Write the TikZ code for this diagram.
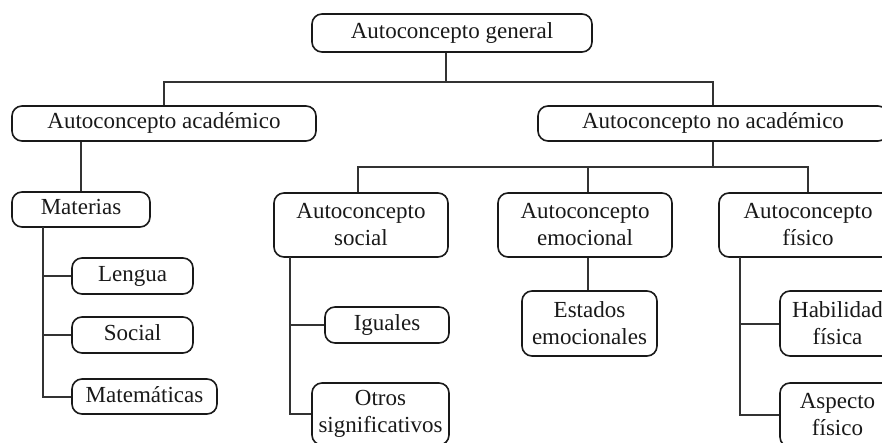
\documentclass[tikz,border=0pt]{standalone}
\usepackage{fontspec}
\setmainfont{Liberation Serif}
\begin{document}
\begin{tikzpicture}[x=1pt,y=-1pt,
  box/.style={draw=black!90, line width=1.6pt, rounded corners=10pt, inner sep=0pt,
    align=center, text=black!90, font=\fontsize{23}{27}\selectfont},
  one/.style={box, text height=16pt, text depth=5pt},
  conn/.style={draw=black!80, line width=2pt}]
\useasboundingbox (0,0) rectangle (882,443);
\clip (0,0) rectangle (882,443);
\fill[white] (0,0) rectangle (882,443);
% nodes
\node[one, minimum width=280pt, minimum height=38pt] (gen) at (452,33) {Autoconcepto general};
\node[one, minimum width=304pt, minimum height=35pt] (acad) at (164,123.5) {Autoconcepto académico};
\node[one, minimum width=350pt, minimum height=35pt] (noacad) at (713,123.5) {Autoconcepto no académico};
\node[one, minimum width=138pt, minimum height=35pt] (mat) at (81,209.5) {Materias};
\node[box, minimum width=174pt, minimum height=64pt] (social) at (361,225) {Autoconcepto\\social};
\node[box, minimum width=174pt, minimum height=64pt] (emoc) at (585,225) {Autoconcepto\\emocional};
\node[box, minimum width=178pt, minimum height=64pt] (fisico) at (808,225) {Autoconcepto\\físico};
\node[one, minimum width=121pt, minimum height=36pt] (lengua) at (132.5,276) {Lengua};
\node[one, minimum width=121pt, minimum height=36pt] (soc2) at (132.5,335) {Social};
\node[one, minimum width=145pt, minimum height=35pt] (mate) at (144.5,396.5) {Matemáticas};
\node[one, minimum width=124pt, minimum height=36pt] (iguales) at (387,325) {Iguales};
\node[box, minimum width=137pt, minimum height=62pt] (otros) at (380.5,414) {Otros\\significativos};
\node[box, minimum width=135pt, minimum height=65pt] (estados) at (589.5,323.5) {Estados\\emocionales};
\node[box, minimum width=115pt, minimum height=65pt] (habil) at (837.5,323.5) {Habilidad\\física};
\node[box, minimum width=115pt, minimum height=64pt] (aspecto) at (837.5,415) {Aspecto\\físico};
% connectors
\coordinate (j1) at (446,82);
\draw[conn] (gen.south -| j1) -- (j1);
\draw[conn] (acad.north) |- (j1) -| (noacad.north);
\coordinate (j2) at (713,167);
\draw[conn] (noacad.south) -- (j2);
\draw[conn] (social.north -| 358,0) |- (j2) -| (fisico.north);
\draw[conn] (emoc.north -| 588,0) -- (588,167);
\draw[conn] (mat.north) -- (mat.north |- acad.south);
\coordinate (mv) at (43,227);
\draw[conn] (mv) |- (mate.west);
\draw[conn] (mv |- lengua.west) -- (lengua.west);
\draw[conn] (mv |- soc2.west) -- (soc2.west);
\coordinate (sv) at (290,257);
\draw[conn] (sv) |- (otros.west);
\draw[conn] (sv |- iguales.west) -- (iguales.west);
\draw[conn] (emoc.south -| 588,0) -- (estados.north -| 588,0);
\coordinate (fv) at (740,257);
\draw[conn] (fv) |- (aspecto.west);
\draw[conn] (fv |- habil.west) -- (habil.west);
\end{tikzpicture}
\end{document}
